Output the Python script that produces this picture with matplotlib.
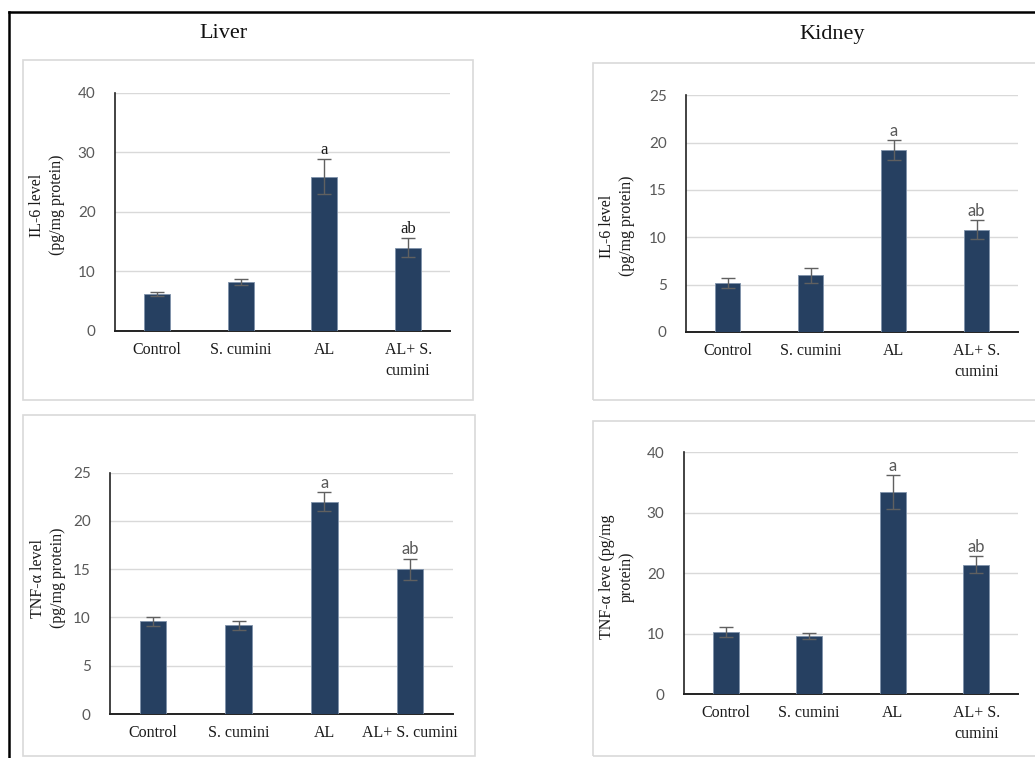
import numpy as np
import matplotlib
matplotlib.use("Agg")
import matplotlib.pyplot as plt
from matplotlib.patches import Rectangle
from matplotlib.lines import Line2D

# data
groups_wrapped = ["Control", "S. cumini", "AL", "AL+ S.\ncumini"]
groups_flat = ["Control", "S. cumini", "AL", "AL+ S. cumini"]

liver_il6 = [6.2, 8.3, 25.9, 14.0]
liver_il6_err = [0.4, 0.5, 2.9, 1.6]
kidney_il6 = [5.2, 6.0, 19.2, 10.8]
kidney_il6_err = [0.55, 0.8, 1.05, 1.0]
liver_tnf = [9.6, 9.2, 22.0, 15.0]
liver_tnf_err = [0.45, 0.45, 0.95, 1.1]
kidney_tnf = [10.3, 9.6, 33.4, 21.4]
kidney_tnf_err = [0.85, 0.55, 2.8, 1.4]
letters = ["", "", "a", "ab"]

W, H = 1035, 758
BAR = "#264061"
SERIF = "Liberation Serif"
SANS = "Lato"

fig = plt.figure(figsize=(W / 100, H / 100), dpi=100)


def box(x0, y0, x1, y1):
    fig.patches.append(Rectangle((x0 / W, 1 - y1 / H), (x1 - x0) / W, (y1 - y0) / H,
                                 transform=fig.transFigure, fill=False,
                                 edgecolor="#d9d9d9", lw=1.2))


def panel(x0, y0, x1, y1, vals, errs, ymax, step, labels, ylabel, ylab_xy,
          letter_style):
    ax = fig.add_axes([x0 / W, 1 - y1 / H, (x1 - x0) / W, (y1 - y0) / H])
    x = np.arange(len(vals))
    ax.bar(x, vals, width=0.31, color=BAR, edgecolor="#7f93ab", linewidth=0.6,
           zorder=3)
    ax.errorbar(x, vals, yerr=errs, fmt="none", ecolor="#606060", elinewidth=1,
                capsize=5, capthick=1, zorder=4)
    ax.set_xlim(-0.5, len(vals) - 0.5)
    ax.set_ylim(0, ymax)
    ax.set_yticks(np.arange(0, ymax + 0.1, step))
    ax.yaxis.grid(True, color="#d9d9d9", lw=1, zorder=0)
    ax.set_axisbelow(True)
    for s in ["top", "right"]:
        ax.spines[s].set_visible(False)
    ax.spines["left"].set_color("#222222")
    ax.spines["bottom"].set_color("#222222")
    ax.spines["left"].set_linewidth(1.2)
    ax.spines["bottom"].set_linewidth(1.4)
    ax.tick_params(axis="both", length=0)
    ax.tick_params(axis="y", pad=14, labelcolor="#595959", labelsize=11)
    ax.tick_params(axis="x", pad=8, labelcolor="#1a1a1a")
    for t in ax.get_yticklabels():
        t.set_fontfamily(SANS)
    ax.set_xticks(x)
    ax.set_xticklabels(labels, fontfamily=SERIF, fontsize=11.5, linespacing=1.4)
    for i, lab in enumerate(letters):
        if not lab:
            continue
        if letter_style == "serif":
            ax.annotate(lab, (x[i], vals[i] + errs[i]), xytext=(0, 1),
                        textcoords="offset points", ha="center", va="bottom",
                        fontfamily=SERIF, fontsize=12, color="#1a1a1a")
        else:
            ax.annotate(lab, (x[i], vals[i] + errs[i]), xytext=(0, 1),
                        textcoords="offset points", ha="center", va="bottom",
                        fontfamily=SANS, fontsize=12, color="#595959")
    fig.text(ylab_xy[0] / W, 1 - ylab_xy[1] / H, ylabel, rotation=90,
             ha="center", va="center", multialignment="center",
             fontfamily=SERIF, fontsize=11.5, linespacing=1.3, color="#1a1a1a")
    return ax


box(23, 60, 473, 400)
box(593, 63, 1045, 400)
box(23, 415, 475, 756)
box(593, 421, 1045, 756)

panel(115, 92.7, 450, 331, liver_il6, liver_il6_err, 40, 10, groups_wrapped,
      "IL-6 level\n(pg/mg protein)", (47, 205), "serif")
panel(686, 95.3, 1018, 332, kidney_il6, kidney_il6_err, 25, 5, groups_wrapped,
      "IL-6 level\n(pg/mg protein)", (617, 226), "sans")
panel(110, 472.7, 453, 714, liver_tnf, liver_tnf_err, 25, 5, groups_flat,
      "TNF-\u03b1 level\n(pg/mg protein)", (48, 578), "sans")
panel(684, 452, 1018, 694.3, kidney_tnf, kidney_tnf_err, 40, 10, groups_wrapped,
      "TNF-\u03b1 leve (pg/mg\nprotein)", (617, 577), "sans")

fig.text(223 / W, 1 - 34 / H, "Liver", ha="center", va="center",
         fontfamily=SERIF, fontsize=16, color="#111111")
fig.text(832 / W, 1 - 34 / H, "Kidney", ha="center", va="center",
         fontfamily=SERIF, fontsize=16, color="#111111")

# outer frame (top and left edges only are visible)
fig.lines.append(Line2D([9 / W, 1.0], [1 - 11.5 / H, 1 - 11.5 / H],
                        transform=fig.transFigure, color="black", lw=1.8))
fig.lines.append(Line2D([9 / W, 9 / W], [1 - 11.5 / H, 0.0],
                        transform=fig.transFigure, color="black", lw=1.8))

fig.savefig("out.png", dpi=100)
